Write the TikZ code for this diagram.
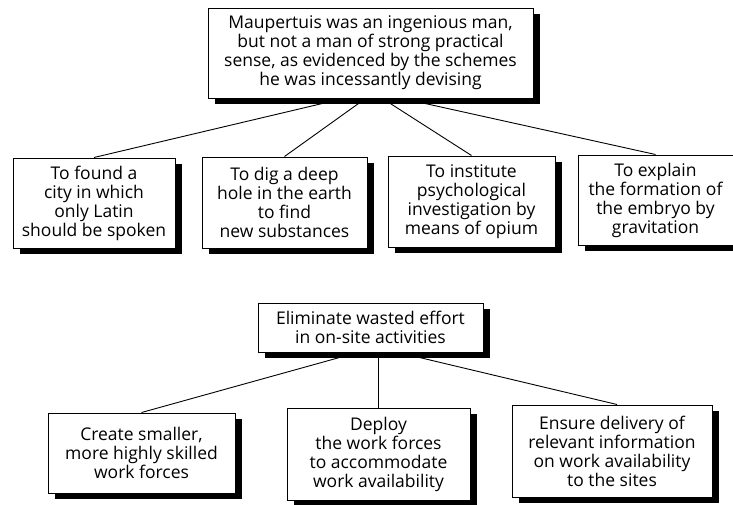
\documentclass[tikz,border=0pt]{standalone}
\usepackage{fontspec}
\setmainfont{Open Sans}
\usetikzlibrary{shadows,calc}

\tikzset{
  box/.style={draw=black, line width=1pt, fill=white, align=center,
    inner sep=2pt, font=\fontsize{17.5}{19}\selectfont,
    drop shadow={shadow xshift=7pt, shadow yshift=-6pt, fill=black, opacity=1}},
  link/.style={draw=black, line width=0.9pt}
}

\begin{document}
\begin{tikzpicture}[x=1pt, y=-1pt]
  \useasboundingbox (0,0) rectangle (733,504);

  % first hierarchy: Maupertuis and his schemes
  \node[box, minimum width=325pt, minimum height=90pt] (top) at (370.5,53)
    {Maupertuis was an ingenious man,\\ but not a man of strong practical\\ sense, as evidenced by the schemes\\ he was incessantly devising};
  \node[box, minimum width=162pt, minimum height=90pt] (c1) at (94,203)
    {To found a\\ city in which\\ only Latin\\ should be spoken};
  \node[box, minimum width=165pt, minimum height=91pt] (c2) at (284.5,202.5)
    {To dig a deep\\ hole in the earth\\ to find\\ new substances};
  \node[box, minimum width=167pt, minimum height=91pt] (c3) at (471.5,201.5)
    {To institute\\ psychological\\ investigation by\\ means of opium};
  \node[box, minimum width=155pt, minimum height=90pt] (c4) at (655.5,200)
    {To explain\\ the formation of\\ the embryo by\\ gravitation};

  \coordinate (t1) at ($(top.south)+(-27,0)$);
  \coordinate (t2) at ($(top.south)+(-5,0)$);
  \coordinate (t3) at ($(top.south)+(12,0)$);
  \coordinate (t4) at ($(top.south)+(32,0)$);
  \draw[link] (t1) -- (c1.north);
  \draw[link] (t2) -- (c2.north);
  \draw[link] (t3) -- (c3.north);
  \draw[link] (t4) -- (c4.north);

  % second hierarchy: wasted effort on site
  \node[box, minimum width=225pt, minimum height=49pt] (elim) at (370.5,327.5)
    {Eliminate wasted effort\\ in on-site activities};
  \node[box, minimum width=187pt, minimum height=80pt] (d1) at (141.5,453)
    {Create smaller,\\ more highly skilled\\ work forces};
  \node[box, minimum width=183pt, minimum height=92pt] (d2) at (378.5,454)
    {Deploy\\ the work forces\\ to accommodate\\ work availability};
  \node[box, minimum width=200pt, minimum height=92pt] (d3) at (612,451)
    {Ensure delivery of\\ relevant information\\ on work availability\\ to the sites};

  \coordinate (e1) at ($(elim.south)+(-13,0)$);
  \coordinate (e2) at ($(elim.south)+(8,0)$);
  \coordinate (e3) at ($(elim.south)+(28,0)$);
  \draw[link] (e1) -- (d1.north);
  \draw[link] (e2) -- (e2 |- d2.north);
  \draw[link] (e3) -- ($(d3.north)+(5,0)$);
\end{tikzpicture}
\end{document}
